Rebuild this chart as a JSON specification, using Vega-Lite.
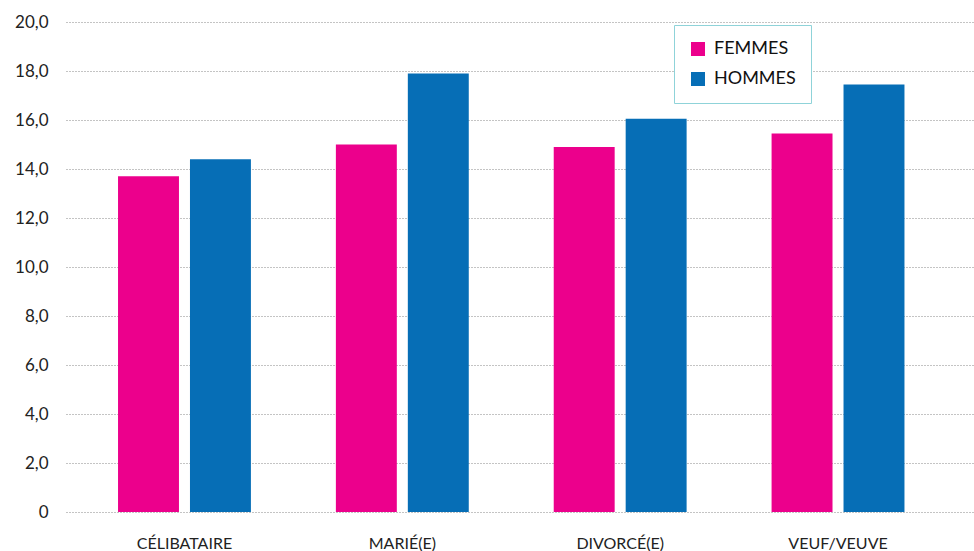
{
  "$schema": "https://vega.github.io/schema/vega-lite/v6.json",
  "width": 908,
  "height": 490,
  "autosize": {"type": "none"},
  "padding": {"left": 66, "top": 22, "right": 0, "bottom": 39},
  "background": "white",
  "config": {"view": {"stroke": null}, "font": "Lato"},
  "data": {
    "values": [
      {"statut": "Célibataire", "sexe": "Femmes", "valeur": 13.7},
      {"statut": "Célibataire", "sexe": "Hommes", "valeur": 14.4},
      {"statut": "Marié(e)", "sexe": "Femmes", "valeur": 15.0},
      {"statut": "Marié(e)", "sexe": "Hommes", "valeur": 17.9},
      {"statut": "Divorcé(e)", "sexe": "Femmes", "valeur": 14.9},
      {"statut": "Divorcé(e)", "sexe": "Hommes", "valeur": 16.05},
      {"statut": "Veuf/veuve", "sexe": "Femmes", "valeur": 15.45},
      {"statut": "Veuf/veuve", "sexe": "Hommes", "valeur": 17.45}
    ]
  },
  "mark": {"type": "bar"},
  "encoding": {
    "x": {
      "field": "statut",
      "type": "nominal",
      "sort": ["Célibataire", "Marié(e)", "Divorcé(e)", "Veuf/veuve"],
      "scale": {"paddingInner": 0.39, "paddingOuter": 0.279, "align": 0.428},
      "axis": {
        "title": null,
        "labelAngle": 0,
        "domain": false,
        "ticks": false,
        "labelExpr": "upper(datum.label)",
        "labelFontSize": 16,
        "labelColor": "#222",
        "labelPadding": 36,
        "labelBaseline": "alphabetic"
      }
    },
    "xOffset": {
      "field": "sexe",
      "type": "nominal",
      "scale": {"paddingInner": 0.153, "paddingOuter": 0}
    },
    "y": {
      "field": "valeur",
      "type": "quantitative",
      "scale": {"domain": [0, 20], "nice": false},
      "axis": {
        "title": null,
        "values": [0, 2, 4, 6, 8, 10, 12, 14, 16, 18, 20],
        "labelExpr": "datum.value == 0 ? '0' : replace(format(datum.value, '.1f'), '.', ',')",
        "domain": false,
        "ticks": false,
        "labelFontSize": 17,
        "labelColor": "#222",
        "labelPadding": 18,
        "grid": true,
        "gridColor": "#888",
        "gridDash": [1, 2],
        "gridWidth": 1
      }
    },
    "color": {
      "field": "sexe",
      "type": "nominal",
      "scale": {"domain": ["Femmes", "Hommes"], "range": ["#EC008C", "#066EB6"]},
      "legend": {
        "title": null,
        "orient": "none",
        "legendX": 608,
        "legendY": 3,
        "symbolType": "square",
        "symbolSize": 196,
        "symbolStrokeWidth": 0,
        "labelExpr": "upper(datum.label)",
        "labelFontSize": 18,
        "labelColor": "#111",
        "labelOffset": 7,
        "rowPadding": 12,
        "padding": 15,
        "strokeColor": "#8fd3d9",
        "fillColor": "white",
        "cornerRadius": 0
      }
    }
  }
}
